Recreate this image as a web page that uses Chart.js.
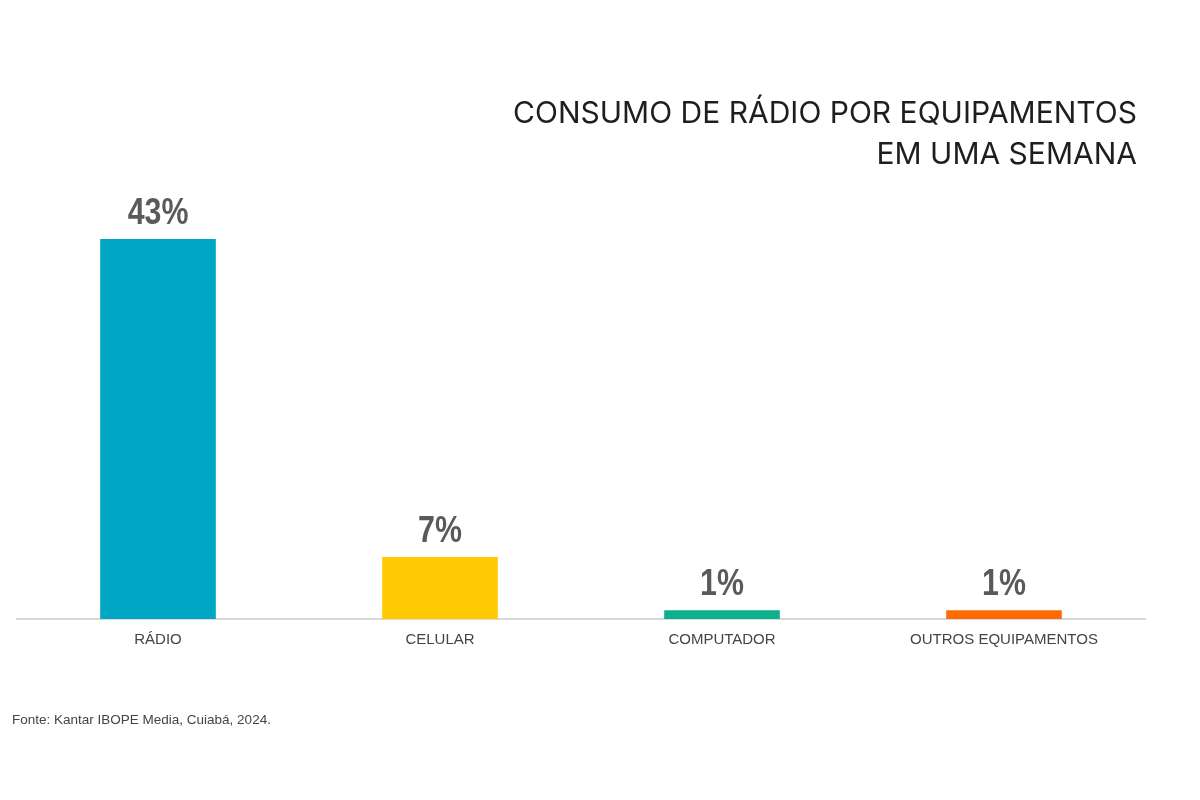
<!DOCTYPE html>
<html>
<head>
<meta charset="utf-8">
<script src="https://cdn.jsdelivr.net/npm/chart.js@4/dist/chart.umd.min.js"></script>
<style>
  html, body { margin: 0; padding: 0; background: #fff; }
  #wrap { width: 1200px; height: 800px; position: relative; }
</style>
</head>
<body>
<div id="wrap"><canvas id="barChart" width="1200" height="800"></canvas></div>
<script>
const categories = ['RÁDIO', 'CELULAR', 'COMPUTADOR', 'OUTROS EQUIPAMENTOS'];
const shares = [43, 7, 1, 1];
const barColors = ['#00a7c4', '#ffc800', '#0bb08c', '#ff6b00'];
const titleLines = ['CONSUMO DE RÁDIO POR EQUIPAMENTOS', 'EM UMA SEMANA'];
const sourceNote = 'Fonte: Kantar IBOPE Media, Cuiabá, 2024.';

// title (right aligned), value labels above bars, source line at the bottom
const textPlugin = {
  id: 'texts',
  afterDraw(chart) {
    const ctx = chart.ctx;
    const meta = chart.getDatasetMeta(0);
    ctx.save();

    ctx.fillStyle = '#1e1e1e';
    ctx.font = '400 30px Inter, "Open Sans", sans-serif';
    ctx.textAlign = 'right';
    ctx.textBaseline = 'alphabetic';
    ctx.fillText(titleLines[0], 1137, 123);
    ctx.fillText(titleLines[1], 1137, 164);

    ctx.fillStyle = '#5a5a5a';
    ctx.font = 'bold 37px "Liberation Sans", Arial, sans-serif';
    ctx.textAlign = 'center';
    ctx.textBaseline = 'alphabetic';
    meta.data.forEach((bar, i) => {
      ctx.save();
      ctx.translate(bar.x, bar.y - 15);
      ctx.scale(0.82, 1); // condensed look
      ctx.fillText(shares[i] + '%', 0, 0);
      ctx.restore();
    });

    ctx.font = '13.5px "Liberation Sans", sans-serif';
    ctx.fillStyle = '#444';
    ctx.textAlign = 'left';
    ctx.textBaseline = 'middle';
    ctx.fillText(sourceNote, 12, 720);
    ctx.restore();
  }
};

const chartCtx = document.getElementById('barChart').getContext('2d');
new Chart(chartCtx, {
  type: 'bar',
  data: {
    labels: categories,
    datasets: [
      {
        label: 'Consumo',
        data: shares,
        backgroundColor: barColors,
        borderWidth: 0,
        categoryPercentage: 1,
        barPercentage: 0.41,
      },
    ],
  },
  options: {
    responsive: false,
    animation: false,
    layout: {
      padding: { left: 17, right: 55, top: 177, bottom: 147 },
    },
    plugins: {
      legend: { display: false },
      tooltip: { enabled: false },
      title: { display: false },
    },
    scales: {
      y: {
        display: false,
        beginAtZero: true,
        max: 50,
      },
      x: {
        grid: { display: false },
        border: { display: true, color: '#d9d9d9', width: 2 },
        ticks: {
          color: '#444',
          padding: 4,
          font: { family: '"Liberation Sans", sans-serif', size: 15 },
        },
      },
    },
  },
  plugins: [textPlugin],
});
</script>
</body>
</html>
